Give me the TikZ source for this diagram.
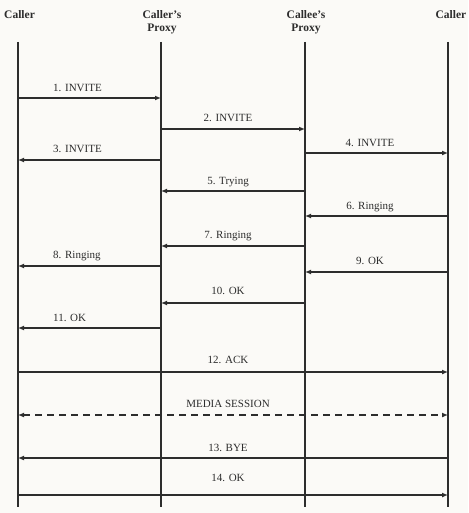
\documentclass[tikz,border=0pt]{standalone}
\usepackage{fontspec}
\setmainfont{Liberation Serif}
\usetikzlibrary{arrows.meta}
\definecolor{bgc}{RGB}{251,250,247}
\definecolor{ink}{RGB}{45,45,45}
\tikzset{
  lifeline/.style={draw=ink, line width=1.5pt},
  msg/.style={draw=ink, line width=1.2pt, -{Latex[length=6pt,width=5pt]}},
  media/.style={draw=ink, line width=1.4pt, dash pattern=on 7pt off 5pt, {Latex[length=6pt,width=5pt]}-{Latex[length=6pt,width=5pt]}},
  head/.style={font=\fontsize{11.5}{13}\selectfont\bfseries, text=ink, inner sep=0pt, align=center},
  lbl/.style={font=\fontsize{11}{12}\selectfont, text=ink, inner sep=0pt, anchor=base},
  lbll/.style={lbl, anchor=base west}
}
\begin{document}
\begin{tikzpicture}[x=1pt,y=-1pt]
\fill[bgc] (0,0) rectangle (468,513);
\useasboundingbox (0,0) rectangle (468,513);
% headers
\node[head, anchor=base west] (h1) at (4,19) {Caller};
\node[head, anchor=base] (h2) at (162,32) {Caller’s\\Proxy};
\node[head, anchor=base] (h3) at (306,32) {Callee’s\\Proxy};
\node[head, anchor=base] (h4) at (451,19) {Caller};
% lifelines
\coordinate (t1) at (18,42);  \coordinate (b1) at (18,507);
\coordinate (t2) at (161,42); \coordinate (b2) at (161,507);
\coordinate (t3) at (305,42); \coordinate (b3) at (305,507);
\coordinate (t4) at (448,42); \coordinate (b4) at (448,507);
\draw[lifeline] (t1) -- (b1);
\draw[lifeline] (t2) -- (b2);
\draw[lifeline] (t3) -- (b3);
\draw[lifeline] (t4) -- (b4);
% messages
\draw[msg] (t1 |- 0,98) -- (t2 |- 0,98);
\node[lbll] (l1) at (53,92) {1. INVITE};
\draw[msg] (t2 |- 0,129) -- (t3 |- 0,129);
\node[lbl] (l2) at (228,121.7) {2. INVITE};
\draw[msg] (t2 |- 0,160) -- (t1 |- 0,160);
\node[lbll] (l3) at (53,152.7) {3. INVITE};
\draw[msg] (t3 |- 0,153) -- (t4 |- 0,153);
\node[lbl] (l4) at (370,146.7) {4. INVITE};
\draw[msg] (t3 |- 0,191) -- (t2 |- 0,191);
\node[lbl] (l5) at (228,184) {5. Trying};
\draw[msg] (t4 |- 0,216) -- (t3 |- 0,216);
\node[lbl] (l6) at (370,209) {6. Ringing};
\draw[msg] (t3 |- 0,246) -- (t2 |- 0,246);
\node[lbl] (l7) at (228,238) {7. Ringing};
\draw[msg] (t2 |- 0,266) -- (t1 |- 0,266);
\node[lbll] (l8) at (53,258) {8. Ringing};
\draw[msg] (t4 |- 0,272) -- (t3 |- 0,272);
\node[lbl] (l9) at (370,264) {9. OK};
\draw[msg] (t3 |- 0,303) -- (t2 |- 0,303);
\node[lbl] (l10) at (228,294) {10. OK};
\draw[msg] (t2 |- 0,328) -- (t1 |- 0,328);
\node[lbll] (l11) at (53,321) {11. OK};
\draw[msg] (t1 |- 0,372) -- (t4 |- 0,372);
\node[lbl] (l12) at (228,363) {12. ACK};
\draw[media] (t1 |- 0,415) -- (t4 |- 0,415);
\node[lbl] (lm) at (228,407) {MEDIA SESSION};
\draw[msg] (t4 |- 0,458) -- (t1 |- 0,458);
\node[lbl] (l13) at (228,451) {13. BYE};
\draw[msg] (t1 |- 0,495) -- (t4 |- 0,495);
\node[lbl] (l14) at (228,481) {14. OK};
\end{tikzpicture}
\end{document}
